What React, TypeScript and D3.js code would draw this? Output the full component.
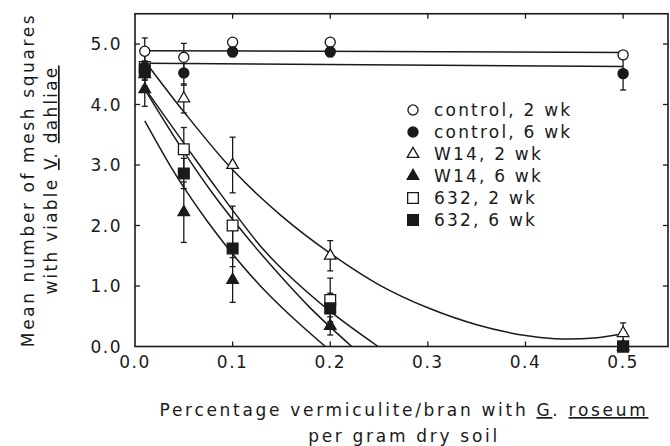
import React from "react";
import * as d3 from "d3";

// ---- data ----
const doses = [0.01, 0.05, 0.1, 0.2, 0.5];

const control2Mean = [4.88, 4.78, 5.03, 5.03, 4.82];
const control2Err = [0.22, 0.23, 0.05, 0.05, 0.05];
const control6Mean = [4.62, 4.52, 4.87, 4.87, 4.51];
const control6Err = [0.1, 0.2, 0.08, 0.08, 0.27];
const w14_2Mean = [4.5, 4.1, 3.0, 1.5, 0.22];
const w14_2Err = [0.2, 0.24, 0.46, 0.25, 0.17];
const w14_6Mean = [4.25, 2.22, 1.1, 0.34, 0];
const w14_6Err = [0.28, 0.5, 0.37, 0.15, 0];
const s632_2Mean = [4.62, 3.26, 2.0, 0.77, 0];
const s632_2Err = [0.2, 0.36, 0.32, 0.36, 0];
const s632_6Mean = [4.55, 2.86, 1.62, 0.63, 0];
const s632_6Err = [0.15, 0.25, 0.3, 0.25, 0];

// fitted lines, read as points along each curve
const control2FitX = [0.01, 0.5];
const control2FitY = [4.89, 4.86];
const control6FitX = [0.01, 0.5];
const control6FitY = [4.68, 4.63];
const w14_2FitX = [0.01, 0.05, 0.1, 0.15, 0.2, 0.25, 0.3, 0.35, 0.4, 0.43, 0.47, 0.5];
const w14_2FitY = [4.72, 3.88, 2.92, 2.16, 1.54, 1.02, 0.64, 0.36, 0.18, 0.13, 0.14, 0.21];
const w14_6FitX = [0.01, 0.036, 0.05, 0.075, 0.1, 0.128, 0.16, 0.195];
const w14_6FitY = [3.73, 2.99, 2.63, 2.05, 1.53, 1.01, 0.5, 0];
const s632_6FitX = [0.01, 0.05, 0.08, 0.11, 0.14, 0.18, 0.222];
const s632_6FitY = [4.25, 3.22, 2.52, 1.9, 1.33, 0.63, 0];
const s632_2FitX = [0.01, 0.055, 0.085, 0.128, 0.152, 0.2, 0.249];
const s632_2FitY = [4.27, 3.25, 2.58, 1.67, 1.26, 0.58, 0];

const xTicks = [0, 0.1, 0.2, 0.3, 0.4, 0.5];
const yTicks = [0, 1, 2, 3, 4, 5];

const legendLabels = [
  "control, 2 wk",
  "control, 6 wk",
  "W14, 2 wk",
  "W14, 6 wk",
  "632, 2 wk",
  "632, 6 wk",
];

type Shape = "circle" | "triangle" | "square";

const series = [
  { mean: control2Mean, err: control2Err, shape: "circle" as Shape, filled: false },
  { mean: w14_2Mean, err: w14_2Err, shape: "triangle" as Shape, filled: false },
  { mean: s632_2Mean, err: s632_2Err, shape: "square" as Shape, filled: false },
  { mean: control6Mean, err: control6Err, shape: "circle" as Shape, filled: true },
  { mean: w14_6Mean, err: w14_6Err, shape: "triangle" as Shape, filled: true },
  { mean: s632_6Mean, err: s632_6Err, shape: "square" as Shape, filled: true },
];

const legendSymbols: { shape: Shape; filled: boolean }[] = [
  { shape: "circle", filled: false },
  { shape: "circle", filled: true },
  { shape: "triangle", filled: false },
  { shape: "triangle", filled: true },
  { shape: "square", filled: false },
  { shape: "square", filled: true },
];

const fits = [
  { xs: control2FitX, ys: control2FitY },
  { xs: control6FitX, ys: control6FitY },
  { xs: w14_2FitX, ys: w14_2FitY },
  { xs: w14_6FitX, ys: w14_6FitY },
  { xs: s632_6FitX, ys: s632_6FitY },
  { xs: s632_2FitX, ys: s632_2FitY },
];

const W = 670;
const H = 446;
const FONT = "'DejaVu Sans', sans-serif";

function symbolPath(shape: Shape) {
  const t =
    shape === "circle"
      ? d3.symbolCircle
      : shape === "triangle"
      ? d3.symbolTriangle
      : d3.symbolSquare;
  const size = shape === "circle" ? 80 : shape === "triangle" ? 58 : 115;
  return d3.symbol().type(t).size(size)() as string;
}

export default function App() {
  const x = d3.scaleLinear().domain([0, 0.546]).range([135, 668]);
  const y = d3.scaleLinear().domain([0, 5.5]).range([346.5, 13.75]);
  const [x0, x1] = x.range();
  const [yb, yt] = y.range();

  const line = d3
    .line<[number, number]>()
    .x((d) => x(d[0]))
    .y((d) => y(d[1]))
    .curve(d3.curveCatmullRom.alpha(0.5));

  const tickLen = 5;

  return (
    <svg
      width={W}
      height={H}
      style={{ position: "absolute", left: 0, top: 0, background: "#fff" }}
      fontFamily={FONT}
    >
      <rect x={0} y={0} width={W} height={H} fill="#fff" />
      {/* fit lines */}
      {fits.map((f, i) => (
        <path
          key={"fit" + i}
          d={line(f.xs.map((v, j) => [v, f.ys[j]] as [number, number])) as string}
          fill="none"
          stroke="#1a1a1a"
          strokeWidth={1.5}
        />
      ))}
      {/* error bars */}
      {series.map((s, i) =>
        s.mean.map((m, j) =>
          s.err[j] > 0 ? (
            <g key={`e${i}-${j}`} stroke="#1a1a1a" strokeWidth={1.3}>
              <line x1={x(doses[j])} x2={x(doses[j])} y1={y(m - s.err[j])} y2={y(m + s.err[j])} />
              <line x1={x(doses[j]) - 3} x2={x(doses[j]) + 3} y1={y(m - s.err[j])} y2={y(m - s.err[j])} />
              <line x1={x(doses[j]) - 3} x2={x(doses[j]) + 3} y1={y(m + s.err[j])} y2={y(m + s.err[j])} />
            </g>
          ) : null
        )
      )}
      {/* markers */}
      {series.map((s, i) =>
        s.mean.map((m, j) => (
          <path
            key={`m${i}-${j}`}
            d={symbolPath(s.shape)}
            transform={`translate(${x(doses[j])},${y(m)})`}
            fill={s.filled ? "#1a1a1a" : "#fff"}
            stroke="#1a1a1a"
            strokeWidth={1.3}
          />
        ))
      )}
      {/* frame */}
      <rect x={x0} y={yt} width={x1 - x0} height={yb - yt} fill="none" stroke="#1a1a1a" strokeWidth={1.6} />
      {/* ticks */}
      {xTicks.slice(1).map((t) => (
        <g key={"xt" + t} stroke="#1a1a1a" strokeWidth={1.3}>
          <line x1={x(t)} x2={x(t)} y1={yb} y2={yb - tickLen} />
          <line x1={x(t)} x2={x(t)} y1={yt} y2={yt + tickLen} />
        </g>
      ))}
      {yTicks.slice(1).map((t) => (
        <g key={"yt" + t} stroke="#1a1a1a" strokeWidth={1.3}>
          <line x1={x0} x2={x0 + tickLen} y1={y(t)} y2={y(t)} />
          <line x1={x1} x2={x1 - tickLen} y1={y(t)} y2={y(t)} />
        </g>
      ))}
      {/* tick labels */}
      {xTicks.map((t) => (
        <text key={"xl" + t} x={x(t)} y={368} textAnchor="middle" fontSize={17} letterSpacing={1.5} fill="#1a1a1a">
          {d3.format(".1f")(t)}
        </text>
      ))}
      {yTicks.map((t) => (
        <text key={"yl" + t} x={122} y={y(t) + 6} textAnchor="end" fontSize={17} letterSpacing={1.5} fill="#1a1a1a">
          {d3.format(".1f")(t)}
        </text>
      ))}
      {/* legend */}
      {legendLabels.map((l, i) => (
        <g key={"lg" + i} transform={`translate(0,${110 + i * 22})`}>
          <path
            d={symbolPath(legendSymbols[i].shape)}
            transform="translate(413,0)"
            fill={legendSymbols[i].filled ? "#1a1a1a" : "#fff"}
            stroke="#1a1a1a"
            strokeWidth={1.3}
          />
          <text x={434} y={6} fontSize={17} letterSpacing={2.2} fill="#1a1a1a">
            {l}
          </text>
        </g>
      ))}
      {/* x axis title */}
      <text x={404} y={416} textAnchor="middle" fontSize={17} letterSpacing={2.7} fill="#1a1a1a">
        Percentage vermiculite/bran with <tspan textDecoration="underline">G</tspan>.{" "}
        <tspan textDecoration="underline">roseum</tspan>
      </text>
      <text x={404} y={442} textAnchor="middle" fontSize={17} letterSpacing={2.7} fill="#1a1a1a">
        per gram dry soil
      </text>
      {/* y axis title */}
      <text
        transform="translate(34,180) rotate(-90)"
        textAnchor="middle"
        fontSize={17}
        letterSpacing={2.6}
        fill="#1a1a1a"
      >
        Mean number of mesh squares
      </text>
      <text
        transform="translate(57,180) rotate(-90)"
        textAnchor="middle"
        fontSize={17}
        letterSpacing={2.2}
        fill="#1a1a1a"
      >
        with viable <tspan textDecoration="underline">V</tspan>.{" "}
        <tspan textDecoration="underline">dahliae</tspan>
      </text>
    </svg>
  );
}
